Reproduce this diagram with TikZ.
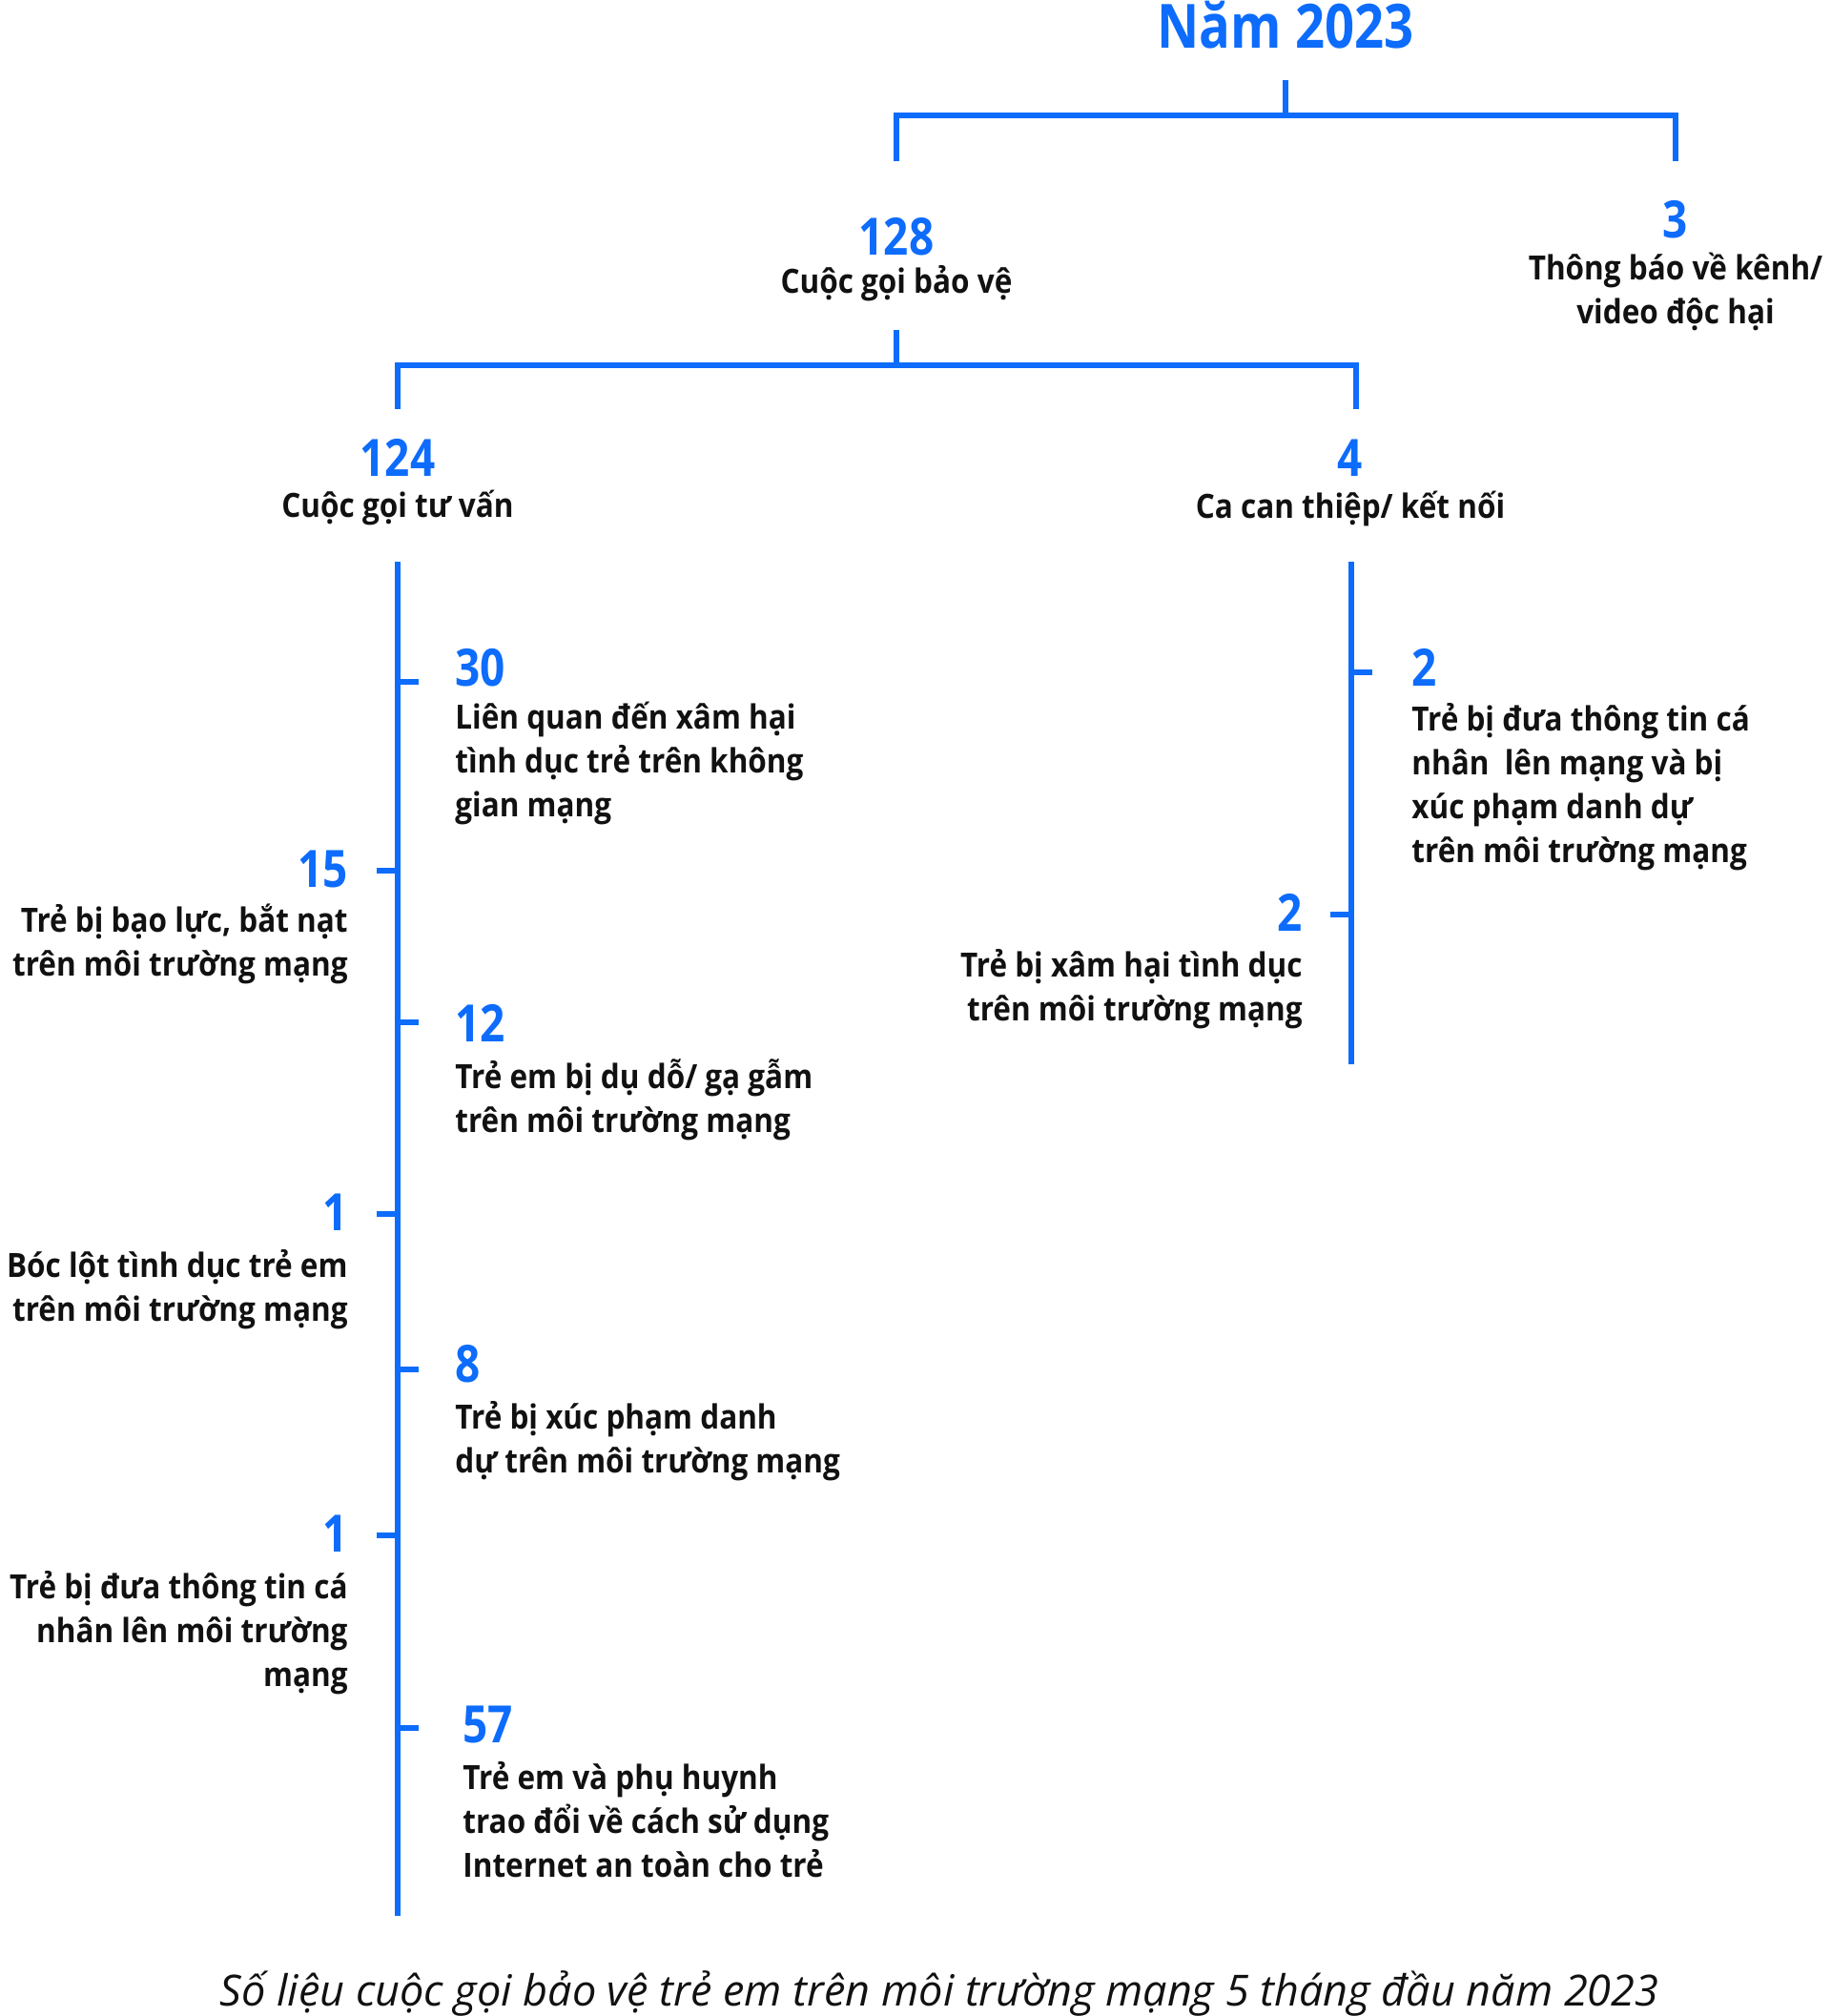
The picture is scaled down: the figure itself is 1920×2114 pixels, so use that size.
\documentclass[tikz,border=0pt]{standalone}
\usepackage{fontspec}
\setmainfont{Open Sans}
\newfontfamily\lblfont{Open Sans}[FakeStretch=0.9]
\newfontfamily\numfont{Open Sans}[FakeStretch=0.85]
\definecolor{blu}{RGB}{13,108,252}
\definecolor{ink}{RGB}{17,17,17}
\begin{document}
\begin{tikzpicture}[x=0.5pt,y=-0.5pt,
  ln/.style={draw=blu,line width=3.4pt},
  big/.style={inner sep=0pt,text=blu,font=\numfont\fontsize{32pt}{38pt}\selectfont\bfseries},
  num/.style={inner sep=0pt,text=blu,font=\numfont\fontsize{27pt}{32pt}\selectfont\bfseries},
  lbl/.style={inner sep=0pt,text=ink,font=\lblfont\fontsize{17.5pt}{23pt}\selectfont\bfseries},
  captxt/.style={inner sep=0pt,text=ink,font=\fontsize{22.5pt}{27pt}\selectfont\itshape}]
\useasboundingbox (0,0) rectangle (1920,2114);
\fill[white] (0,0) rectangle (1920,2114);

% top level
\node[big,anchor=base] (year) at (1348,51) {Năm 2023};
\coordinate (ystem) at (1348,84);
\coordinate (bar0) at (1348,121);
\coordinate (l128) at (940,169);
\coordinate (l3) at (1757,169);
\draw[ln] (ystem) -- (bar0);
\draw[ln] (l128) |- (bar0) -| (l3);

\node[num,anchor=base] (n128) at (940,267) {128};
\node[lbl,anchor=base] (t128) at (940,307) {Cuộc gọi bảo vệ};
\node[num,anchor=base] (n3) at (1757,249) {3};
\node[lbl,anchor=north,align=center] (t3) at (1757,265) {Thông báo về kênh/\\video độc hại};

% second level
\coordinate (stem1) at (940,346);
\coordinate (bar1) at (940,383);
\coordinate (l124) at (417,429);
\coordinate (l4) at (1422,429);
\draw[ln] (stem1) -- (bar1);
\draw[ln] (l124) |- (bar1) -| (l4);

\node[num,anchor=base] (n124) at (417,499) {124};
\node[lbl,anchor=base] (t124) at (417,542) {Cuộc gọi tư vấn};
\node[num,anchor=base] (n4) at (1416,499) {4};
\node[lbl,anchor=base] (t4) at (1416,543) {Ca can thiệp/ kết nối};

% left spine
\coordinate (ltop) at (417,589);
\coordinate (lbot) at (417,2009);
\draw[ln] (ltop) -- (lbot);

\foreach \y/\s in {715/a,1072/b,1436/c,1812/d}{
  \coordinate (lr\s) at (417,\y);
  \draw[ln] (lr\s) -- ++(22,0);
}
\foreach \y/\s in {913/a,1273/b,1610/c}{
  \coordinate (ll\s) at (417,\y);
  \draw[ln] (ll\s) -- ++(-22,0);
}

\node[num,anchor=base west] (n30) at (477,719) {30};
\node[lbl,anchor=north west,align=left] (t30) at (477,736) {Liên quan đến xâm hại\\tình dục trẻ trên không\\gian mạng};

\node[num,anchor=base east] (n15) at (365,930) {15};
\node[lbl,anchor=north east,align=right] (t15) at (365,948) {Trẻ bị bạo lực, bắt nạt\\trên môi trường mạng};

\node[num,anchor=base west] (n12) at (477,1092) {12};
\node[lbl,anchor=north west,align=left] (t12) at (477,1110) {Trẻ em bị dụ dỗ/ gạ gẫm\\trên môi trường mạng};

\node[num,anchor=base east] (n1a) at (365,1290) {1};
\node[lbl,anchor=north east,align=right] (t1a) at (365,1310) {Bóc lột tình dục trẻ em\\trên môi trường mạng};

\node[num,anchor=base west] (n8) at (477,1449) {8};
\node[lbl,anchor=north west,align=left] (t8) at (477,1469) {Trẻ bị xúc phạm danh\\dự trên môi trường mạng};

\node[num,anchor=base east] (n1b) at (365,1627) {1};
\node[lbl,anchor=north east,align=right] (t1b) at (365,1647) {Trẻ bị đưa thông tin cá\\nhân lên môi trường\\mạng};

\node[num,anchor=base west] (n57) at (485,1827) {57};
\node[lbl,anchor=north west,align=left] (t57) at (485,1847) {Trẻ em và phụ huynh\\trao đổi về cách sử dụng\\Internet an toàn cho trẻ};

% right spine
\coordinate (rtop) at (1417,589);
\coordinate (rbot) at (1417,1116);
\draw[ln] (rtop) -- (rbot);
\coordinate (rr) at (1417,705);
\draw[ln] (rr) -- ++(22,0);
\coordinate (rl) at (1417,959);
\draw[ln] (rl) -- ++(-22,0);

\node[num,anchor=base west] (n2a) at (1480,719) {2};
\node[lbl,anchor=north west,align=left] (t2a) at (1480,737) {Trẻ bị đưa thông tin cá\\nhân~ lên mạng và bị\\xúc phạm danh dự\\trên môi trường mạng};

\node[num,anchor=base east] (n2b) at (1366,976) {2};
\node[lbl,anchor=north east,align=right] (t2b) at (1366,995) {Trẻ bị xâm hại tình dục\\trên môi trường mạng};

% caption
\node[captxt,anchor=base] (caption) at (985,2103) {Số liệu cuộc gọi bảo vệ trẻ em trên môi trường mạng 5 tháng đầu năm 2023};
\end{tikzpicture}
\end{document}
